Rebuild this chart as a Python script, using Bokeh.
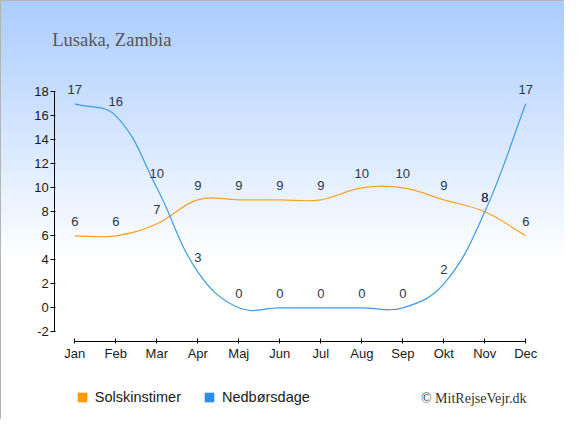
import math
from bokeh.plotting import figure
from bokeh.models import FixedTicker, Label, Legend, LegendItem, Range1d, ColumnDataSource
from bokeh.core.properties import value
from bokeh.embed import file_html
from bokeh.resources import INLINE

months = ["Jan", "Feb", "Mar", "Apr", "Maj", "Jun", "Jul", "Aug", "Sep", "Okt", "Nov", "Dec"]
sun_hours = [6, 6, 7, 9, 9, 9, 9, 10, 10, 9, 8, 6]
rain_days = [17, 16, 10, 3, 0, 0, 0, 0, 0, 2, 8, 17]
y_ticks = [-2, 0, 2, 4, 6, 8, 10, 12, 14, 16, 18]
title_text = "Lusaka, Zambia"
credit_text = "\u00a9 MitRejseVejr.dk"
series_names = ["Solskinstimer", "Nedb\u00f8rsdage"]

PX_PER_MONTH = 41.0
PX_PER_UNIT = 12.0
W, H = 564, 419


def spline_segments(ys, tension=0.4):
    # tension spline with distance-weighted handles, computed in screen proportions
    n = len(ys)
    pts = [(i * PX_PER_MONTH, ys[i] * PX_PER_UNIT) for i in range(n)]
    prev_c, next_c = [], []
    for i in range(n):
        a = pts[max(i - 1, 0)]
        b = pts[i]
        c = pts[min(i + 1, n - 1)]
        d01 = math.hypot(b[0] - a[0], b[1] - a[1])
        d12 = math.hypot(c[0] - b[0], c[1] - b[1])
        tot = d01 + d12
        s01 = d01 / tot if tot else 0.0
        s12 = d12 / tot if tot else 0.0
        fa, fb = tension * s01, tension * s12
        prev_c.append((b[0] - fa * (c[0] - a[0]), b[1] - fa * (c[1] - a[1])))
        next_c.append((b[0] + fb * (c[0] - a[0]), b[1] + fb * (c[1] - a[1])))
    d = dict(x0=[], y0=[], x1=[], y1=[], cx0=[], cy0=[], cx1=[], cy1=[])
    for i in range(1, n):
        d["x0"].append(i - 1); d["y0"].append(ys[i - 1])
        d["x1"].append(i); d["y1"].append(ys[i])
        d["cx0"].append(next_c[i - 1][0] / PX_PER_MONTH); d["cy0"].append(next_c[i - 1][1] / PX_PER_UNIT)
        d["cx1"].append(prev_c[i][0] / PX_PER_MONTH); d["cy1"].append(prev_c[i][1] / PX_PER_UNIT)
    return ColumnDataSource(d)


jan_px, zero_px = 74.3, 307.3
x0 = -jan_px / PX_PER_MONTH
y0 = -(H - zero_px) / PX_PER_UNIT
p = figure(width=W, height=H, output_backend="svg", toolbar_location=None,
           x_range=Range1d(x0, x0 + W / PX_PER_MONTH), y_range=Range1d(y0, y0 + H / PX_PER_UNIT),
           min_border=0, min_border_left=0, min_border_right=0, min_border_top=0, min_border_bottom=0)
p.border_fill_color = None
p.background_fill_color = None
p.outline_line_color = None
p.styles = {"background": "linear-gradient(to bottom, #aaccff 0px, #ffffff 262px, #ffffff 100%)",
            "box-shadow": "inset 1px 1px 0 0 #b4b4b4"}
p.xgrid.visible = False
p.ygrid.visible = False

# axes
p.yaxis.ticker = FixedTicker(ticks=y_ticks)
p.yaxis.major_label_overrides = {t: str(t) for t in y_ticks}
p.yaxis.bounds = (y_ticks[0], y_ticks[-1])
p.yaxis.fixed_location = (54.3 - jan_px) / PX_PER_MONTH
p.xaxis.ticker = FixedTicker(ticks=list(range(len(months))))
p.xaxis.major_label_overrides = {i: m for i, m in enumerate(months)}
p.xaxis.bounds = (0, len(months) - 1)
p.xaxis.fixed_location = (zero_px - 340.7) / PX_PER_UNIT
for ax in (p.xaxis, p.yaxis):
    ax.minor_tick_line_color = None
    ax.axis_line_color = "#000000"
    ax.major_tick_line_color = "#000000"
    ax.major_label_text_font = "Liberation Sans"
    ax.major_label_text_font_size = "13px"
    ax.major_label_text_color = "#1a1a1a"
p.yaxis.major_tick_out = 4
p.yaxis.major_tick_in = 1
p.yaxis.major_label_standoff = 2
p.xaxis.major_tick_out = 2
p.xaxis.major_tick_in = 3
p.xaxis.major_label_standoff = 3

# lines
sun_col = "#ffa01e"
rain_col = "#3d9ae8"
p.bezier(x0="x0", y0="y0", x1="x1", y1="y1", cx0="cx0", cy0="cy0", cx1="cx1", cy1="cy1",
         source=spline_segments(sun_hours), line_color=sun_col, line_width=1.2)
p.bezier(x0="x0", y0="y0", x1="x1", y1="y1", cx0="cx0", cy0="cy0", cx1="cx1", cy1="cy1",
         source=spline_segments(rain_days), line_color=rain_col, line_width=1.2)

# data labels
xs = list(range(len(months)))
for vals in (sun_hours, rain_days):
    p.text(x=xs, y=vals, text=[str(v) for v in vals], text_align="center",
           text_baseline="middle", y_offset=-14, text_font=value("Liberation Sans"),
           text_font_size="13px", text_color="#2a3550")

# legend swatches (zero-size quads on the data points, only used for the legend)
q1 = p.quad(left=xs, right=xs, bottom=sun_hours, top=sun_hours, fill_color="#ff9a0a", line_color=None)
q2 = p.quad(left=xs, right=xs, bottom=rain_days, top=rain_days, fill_color="#2b8ee8", line_color=None)
legend = Legend(items=[LegendItem(label=series_names[0], renderers=[q1]),
                       LegendItem(label=series_names[1], renderers=[q2])],
                location=(75.8, H - 405), orientation="horizontal",
                glyph_width=12, glyph_height=12, label_height=12, label_standoff=7,
                spacing=22, padding=0, margin=0, border_line_color=None,
                background_fill_alpha=0, label_text_font="Liberation Sans",
                label_text_font_size="14.5px", label_text_color="#1a1a1a")
p.add_layout(legend, "center")

p.add_layout(Label(x=51.7, y=H - 39.3, x_units="screen", y_units="screen", text=title_text,
                   text_font="Liberation Serif", text_font_size="18.5px", text_color="#555555",
                   text_baseline="alphabetic"))
p.add_layout(Label(x=526, y=H - 397.5, x_units="screen", y_units="screen", text=credit_text,
                   text_font="Liberation Serif", text_font_size="14px", text_color="#333333",
                   text_align="right", text_baseline="middle"))

open("out.html", "w").write(file_html(p, INLINE))
